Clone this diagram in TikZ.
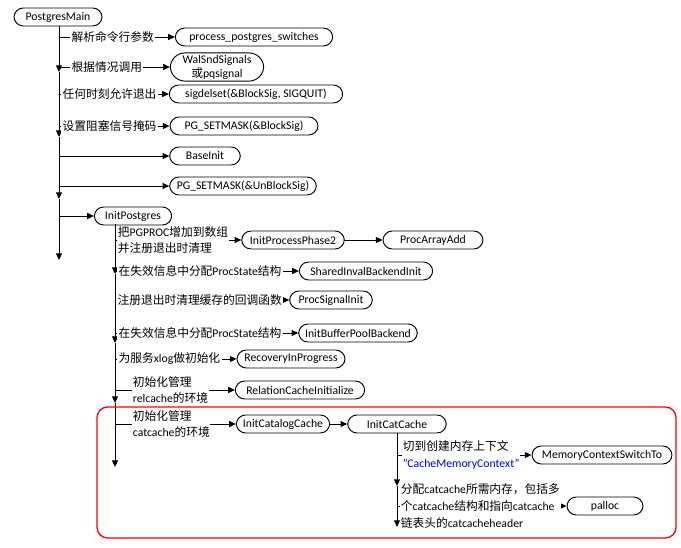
\documentclass[tikz,border=0pt]{standalone}
\usepackage{fontspec}
\setmainfont{Carlito}
\newfontfamily\zh{Noto Sans CJK SC}
\usetikzlibrary{arrows.meta}
\begin{document}
\begin{tikzpicture}[x=0.75pt,y=-0.75pt,
  font=\fontsize{8.8}{10.5}\selectfont,
  fn/.style={draw,rounded corners=7pt,minimum height=13.5pt,inner sep=1.5pt,line width=0.7pt,align=center},
  lab/.style={fill=white,inner sep=1pt,anchor=west,align=left,font=\fontsize{8.8}{12.5}\selectfont},
  arr/.style={-{Triangle[length=5pt,width=4.5pt]},line width=0.7pt},
  ln/.style={line width=0.7pt}]
\useasboundingbox (0,0) rectangle (681,548);
% nodes
\node[fn,minimum width=66pt] (pm) at (58,17) {PostgresMain};
\node[fn,minimum width=118pt] (pps) at (254,37) {process\_postgres\_switches};
\node[fn,minimum width=70pt,rounded corners=11pt] (wal) at (217,67) {WalSndSignals\\{\zh 或}pqsignal};
\node[fn,minimum width=130pt] (sig) at (256,94) {sigdelset(\&BlockSig, SIGQUIT)};
\node[fn,minimum width=111pt] (pgb) at (244,126) {PG\_SETMASK(\&BlockSig)};
\node[fn,minimum width=53pt] (base) at (205,156) {BaseInit};
\node[fn,minimum width=110pt] (pgu) at (243,186) {PG\_SETMASK(\&UnBlockSig)};
\node[fn,minimum width=58pt] (ip) at (133,216) {InitPostgres};
\node[fn,minimum width=77pt] (ipp) at (293,240) {InitProcessPhase2};
\node[fn,minimum width=75pt] (paa) at (433,240) {ProcArrayAdd};
\node[fn,minimum width=100pt] (sib) at (366,271) {SharedInvalBackendInit};
\node[fn,minimum width=62pt] (psi) at (331,300) {ProcSignalInit};
\node[fn,minimum width=89pt] (ibp) at (358,333) {InitBufferPoolBackend};
\node[fn,minimum width=81pt] (rip) at (291,359) {RecoveryInProgress};
\node[fn,minimum width=97pt] (rci) at (300,390) {RelationCacheInitialize};
\node[fn,minimum width=70pt] (icc) at (283,424) {InitCatalogCache};
\node[fn,minimum width=74pt] (icat) at (397,424) {InitCatCache};
\node[fn,minimum width=105pt] (mcs) at (602,455) {MemoryContextSwitchTo};
\node[fn,minimum width=57pt] (pal) at (605,506) {palloc};
% coordinates
\coordinate (m0) at (59,26);
\coordinate (m1) at (59,72);
\coordinate (m2) at (59,137);
\coordinate (m3) at (59,199);
\coordinate (m4) at (59,260);
\coordinate (s0) at (115,224);
\coordinate (s1) at (115,274);
\coordinate (s2) at (115,343);
\coordinate (s3) at (115,403);
\coordinate (s4) at (115,467);
\coordinate (t1) at (397,486);
\coordinate (t2) at (397,527);
% verticals
\draw[arr] (pm.south -| m0) -- (m1);
\draw[arr] (m1) -- (m2);
\draw[arr] (m2) -- (m3);
\draw[arr] (m3) -- (m4);
\draw[arr] (s0) -- (s1);
\draw[arr] (s1) -- (s2);
\draw[arr] (s2) -- (s3);
\draw[arr] (s3) -- (s4);
\draw[arr] (icat.south) -- (t1);
\draw[arr] (t1) -- (t2);
% main branches
\draw[arr] (59,37) -- (pps.west);
\draw[arr] (59,67) -- (wal.west);
\draw[arr] (59,94) -- (sig.west);
\draw[arr] (59,126) -- (pgb.west);
\draw[arr] (59,156) -- (base.west);
\draw[arr] (59,186) -- (pgu.west);
\draw[arr] (59,216) -- (ip.west);
\node[lab] at (70,37) {\zh 解析命令行参数};
\node[lab] at (70,67) {\zh 根据情况调用};
\node[lab] at (61,94) {\zh 任何时刻允许退出};
\node[lab] at (61,126) {\zh 设置阻塞信号掩码};
% second branches
\draw[arr] (115,240) -- (ipp.west);
\draw[arr] (ipp.east) -- (paa.west);
\draw[arr] (115,271) -- (sib.west);
\draw[arr] (115,300) -- (psi.west);
\draw[arr] (115,333) -- (ibp.west);
\draw[arr] (115,359) -- (rip.west);
\draw[arr] (115,390) -- (rci.west);
\draw[arr] (115,424) -- (icc.west);
\draw[arr] (icc.east) -- (icat.west);
\node[lab,inner sep=0.5pt] at (117,240) {{\zh 把}PGPROC{\zh 增加到数组}\\{\zh 并注册退出时清理}};
\node[lab] at (117,271) {{\zh 在失效信息中分配}ProcState{\zh 结构}};
\node[lab] at (116,300) {\zh 注册退出时清理缓存的回调函数};
\node[lab] at (117,333) {{\zh 在失效信息中分配}ProcState{\zh 结构}};
\node[lab] at (117,359) {{\zh 为服务}xlog{\zh 做初始化}};
\node[lab,inner sep=0.5pt] at (132,390) {{\zh 初始化管理}\\relcache{\zh 的环境}};
\node[lab,inner sep=0.5pt] at (132,424) {{\zh 初始化管理}\\catcache{\zh 的环境}};
% third branches
\draw[arr] (397,455) -- (mcs.west);
\draw[arr] (397,506) -- (pal.west);
\node[lab,inner sep=0.5pt] at (402,455) {{\zh 切到创建内存上下文}\\\textcolor{blue!85!black}{"CacheMemoryContext"}};
\node[lab,inner sep=0.5pt] at (400,506) {{\zh 分配}catcache{\zh 所需内存，包括多}\\{\zh 个}catcache{\zh 结构和指向}catcache\\{\zh 链表头的}catcacheheader};
% red box
\draw[red,line width=1pt,rounded corners=8pt] (97,407) rectangle (676,538);
\end{tikzpicture}
\end{document}
